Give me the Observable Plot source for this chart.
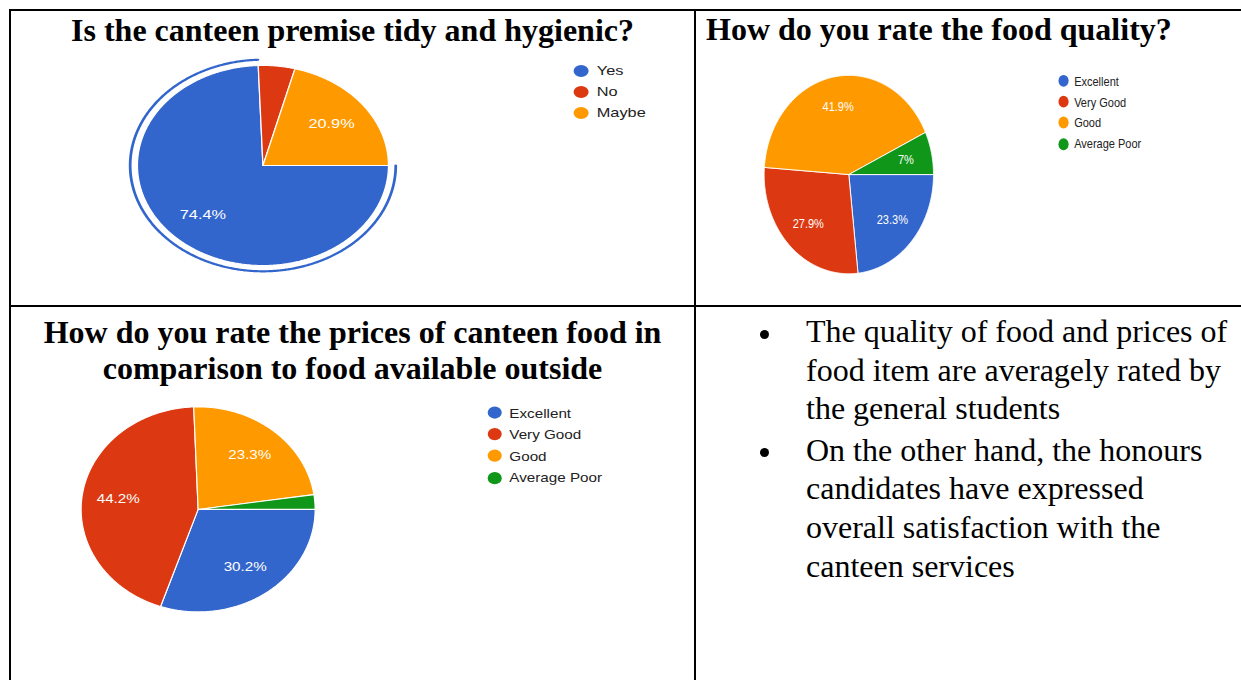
<!DOCTYPE html>
<html>
<head>
<meta charset="utf-8">
<script src="https://cdn.jsdelivr.net/npm/d3@7"></script>
<script src="https://cdn.jsdelivr.net/npm/@observablehq/plot@0.6"></script>
<style>
  html, body { margin: 0; padding: 0; background: #ffffff; }
  #page { position: relative; width: 1241px; height: 680px; overflow: hidden; background: #ffffff; }
  .rule { position: absolute; background: #000000; }
  .title { position: absolute; font-family: "Liberation Serif", "Times New Roman", serif; font-weight: bold; font-size: 32px; color: #000; white-space: nowrap; }
  .chart { position: absolute; width: 470px; height: 230px; transform-origin: 0 0; }
  .chart svg { position: absolute; left: 0; top: 0; }
  .leg-dot { position: absolute; width: 12px; height: 12px; border-radius: 50%; }
  .leg-txt { position: absolute; font-family: "Liberation Sans", Arial, sans-serif; font-size: 13px; line-height: 15px; color: #222222; white-space: nowrap; }
  .notes { position: absolute; left: 806px; font-family: "Liberation Serif", "Times New Roman", serif; font-size: 32px; color: #000; white-space: nowrap; }
  .bullet { position: absolute; width: 9px; height: 9px; border-radius: 50%; background: #000; }
</style>
</head>
<body>
<div id="page"></div>
<script>
// ---------- data ----------
const titles = [
  "Is the canteen premise tidy and hygienic?",
  "How do you rate the food quality?",
  "How do you rate the prices of canteen food in",
  "comparison to food available outside"
];
const tidyCategories = ["Yes", "No", "Maybe"];
const tidyValues = [74.4, 4.7, 20.9];
const qualityCategories = ["Excellent", "Very Good", "Good", "Average Poor"];
const qualityValues = [23.3, 27.9, 41.9, 7];
const priceCategories = ["Excellent", "Very Good", "Good", "Average Poor"];
const priceValues = [30.2, 44.2, 23.3, 2.3];
const sliceColors = ["#3366cc", "#dc3912", "#ff9900", "#109618"];
const noteLines1 = ["The quality of food and prices of", "food item are averagely rated by", "the general students"];
const noteLines2 = ["On the other hand, the honours", "candidates have expressed", "overall satisfaction with the", "canteen services"];

// ---------- helpers ----------
const page = document.getElementById("page");
function addEl(cls, style, text) {
  const d = document.createElement("div");
  d.className = cls;
  Object.assign(d.style, style);
  if (text !== undefined) d.textContent = text;
  page.appendChild(d);
  return d;
}
const rad = (deg) => deg * Math.PI / 180;
function arcPoints(a0, a1, r) {
  const pts = [];
  const n = Math.max(2, Math.ceil((a1 - a0) / 0.5));
  for (let i = 0; i <= n; i++) {
    const a = rad(a0 + (a1 - a0) * i / n);
    pts.push({x: r * Math.sin(a), y: r * Math.cos(a)});
  }
  return pts;
}
function pieSlices(categories, values, startDeg) {
  const total = d3.sum(values);
  let acc = 0;
  return categories.map((c, i) => {
    const a0 = startDeg + acc / total * 360;
    acc += values[i];
    const a1 = startDeg + acc / total * 360;
    const mid = rad((a0 + a1) / 2);
    return {category: c, value: values[i], color: sliceColors[i], a0, a1,
            lx: 0.69 * Math.sin(mid), ly: 0.69 * Math.cos(mid),
            label: values[i] + "%"};
  });
}

function pieChart({categories, values, left, top, sx, sy, ringIndex}) {
  const slices = pieSlices(categories, values, 90);
  const marks = slices.map(s =>
    Plot.line([{x: 0, y: 0}, ...arcPoints(s.a0, s.a1, 1), {x: 0, y: 0}],
      {x: "x", y: "y", fill: s.color, stroke: "#ffffff", strokeWidth: 1, curve: "linear"})
  );
  if (ringIndex !== undefined) {
    const s = slices[ringIndex];
    marks.push(Plot.line(arcPoints(s.a0, s.a1, 1.058),
      {x: "x", y: "y", stroke: s.color, strokeWidth: 2.2, curve: "linear"}));
  }
  marks.push(Plot.text(slices.filter(s => s.value >= 5), {
    x: "lx", y: "ly", text: "label", fill: "#ffffff",
    fontSize: 13, fontFamily: "Liberation Sans, Arial, sans-serif"
  }));
  const svg = Plot.plot({
    width: 230, height: 230, margin: 0,
    x: {domain: [-1.15, 1.15], axis: null},
    y: {domain: [-1.15, 1.15], axis: null},
    style: {background: "transparent", overflow: "visible"},
    marks
  });
  const box = document.createElement("div");
  box.className = "chart";
  box.style.left = left + "px";
  box.style.top = top + "px";
  box.style.transform = `scale(${sx}, ${sy})`;
  box.appendChild(svg);
  categories.forEach((c, i) => {
    const yc = 21 + 21.2 * i;
    const dot = document.createElement("div");
    dot.className = "leg-dot";
    Object.assign(dot.style, {left: (368.5 - 6) + "px", top: (yc - 6) + "px", background: sliceColors[i]});
    box.appendChild(dot);
    const t = document.createElement("div");
    t.className = "leg-txt";
    Object.assign(t.style, {left: "381.5px", top: (yc - 7.5) + "px"});
    t.textContent = c;
    box.appendChild(t);
  });
  page.appendChild(box);
}

// ---------- table rules ----------
addEl("rule", {left: "9px", top: "9px", width: "1232px", height: "2px"});
addEl("rule", {left: "9px", top: "305px", width: "1232px", height: "2px"});
addEl("rule", {left: "9px", top: "9px", width: "2px", height: "671px"});
addEl("rule", {left: "694px", top: "9px", width: "2px", height: "671px"});

// ---------- titles ----------
addEl("title", {left: "10px", width: "685px", top: "12px", lineHeight: "36px", textAlign: "center"}, titles[0]);
addEl("title", {left: "706px", top: "11px", lineHeight: "36px"}, titles[1]);
addEl("title", {left: "10px", width: "685px", top: "313.6px", lineHeight: "36.6px", textAlign: "center"}, titles[2]);
addEl("title", {left: "10px", width: "685px", top: "350.2px", lineHeight: "36.6px", textAlign: "center"}, titles[3]);

// ---------- pies ----------
pieChart({categories: tidyCategories, values: tidyValues, left: 118.2, top: 49.5, sx: 1.255, sy: 1.0, ringIndex: 0});
pieChart({categories: qualityCategories, values: qualityValues, left: 751.1, top: 60.4, sx: 0.847, sy: 0.992});
pieChart({categories: priceCategories, values: priceValues, left: 63.45, top: 390.6, sx: 1.17, sy: 1.025});

// ---------- notes ----------
const lh = 38.6;
noteLines1.forEach((s, i) => addEl("notes", {top: (312 + i * lh) + "px", lineHeight: lh + "px"}, s));
noteLines2.forEach((s, i) => addEl("notes", {top: (312 + 3 * lh + 3 + i * lh) + "px", lineHeight: lh + "px"}, s));
addEl("bullet", {left: "759.5px", top: "329.5px"});
addEl("bullet", {left: "759.5px", top: "447.5px"});
</script>
</body>
</html>
